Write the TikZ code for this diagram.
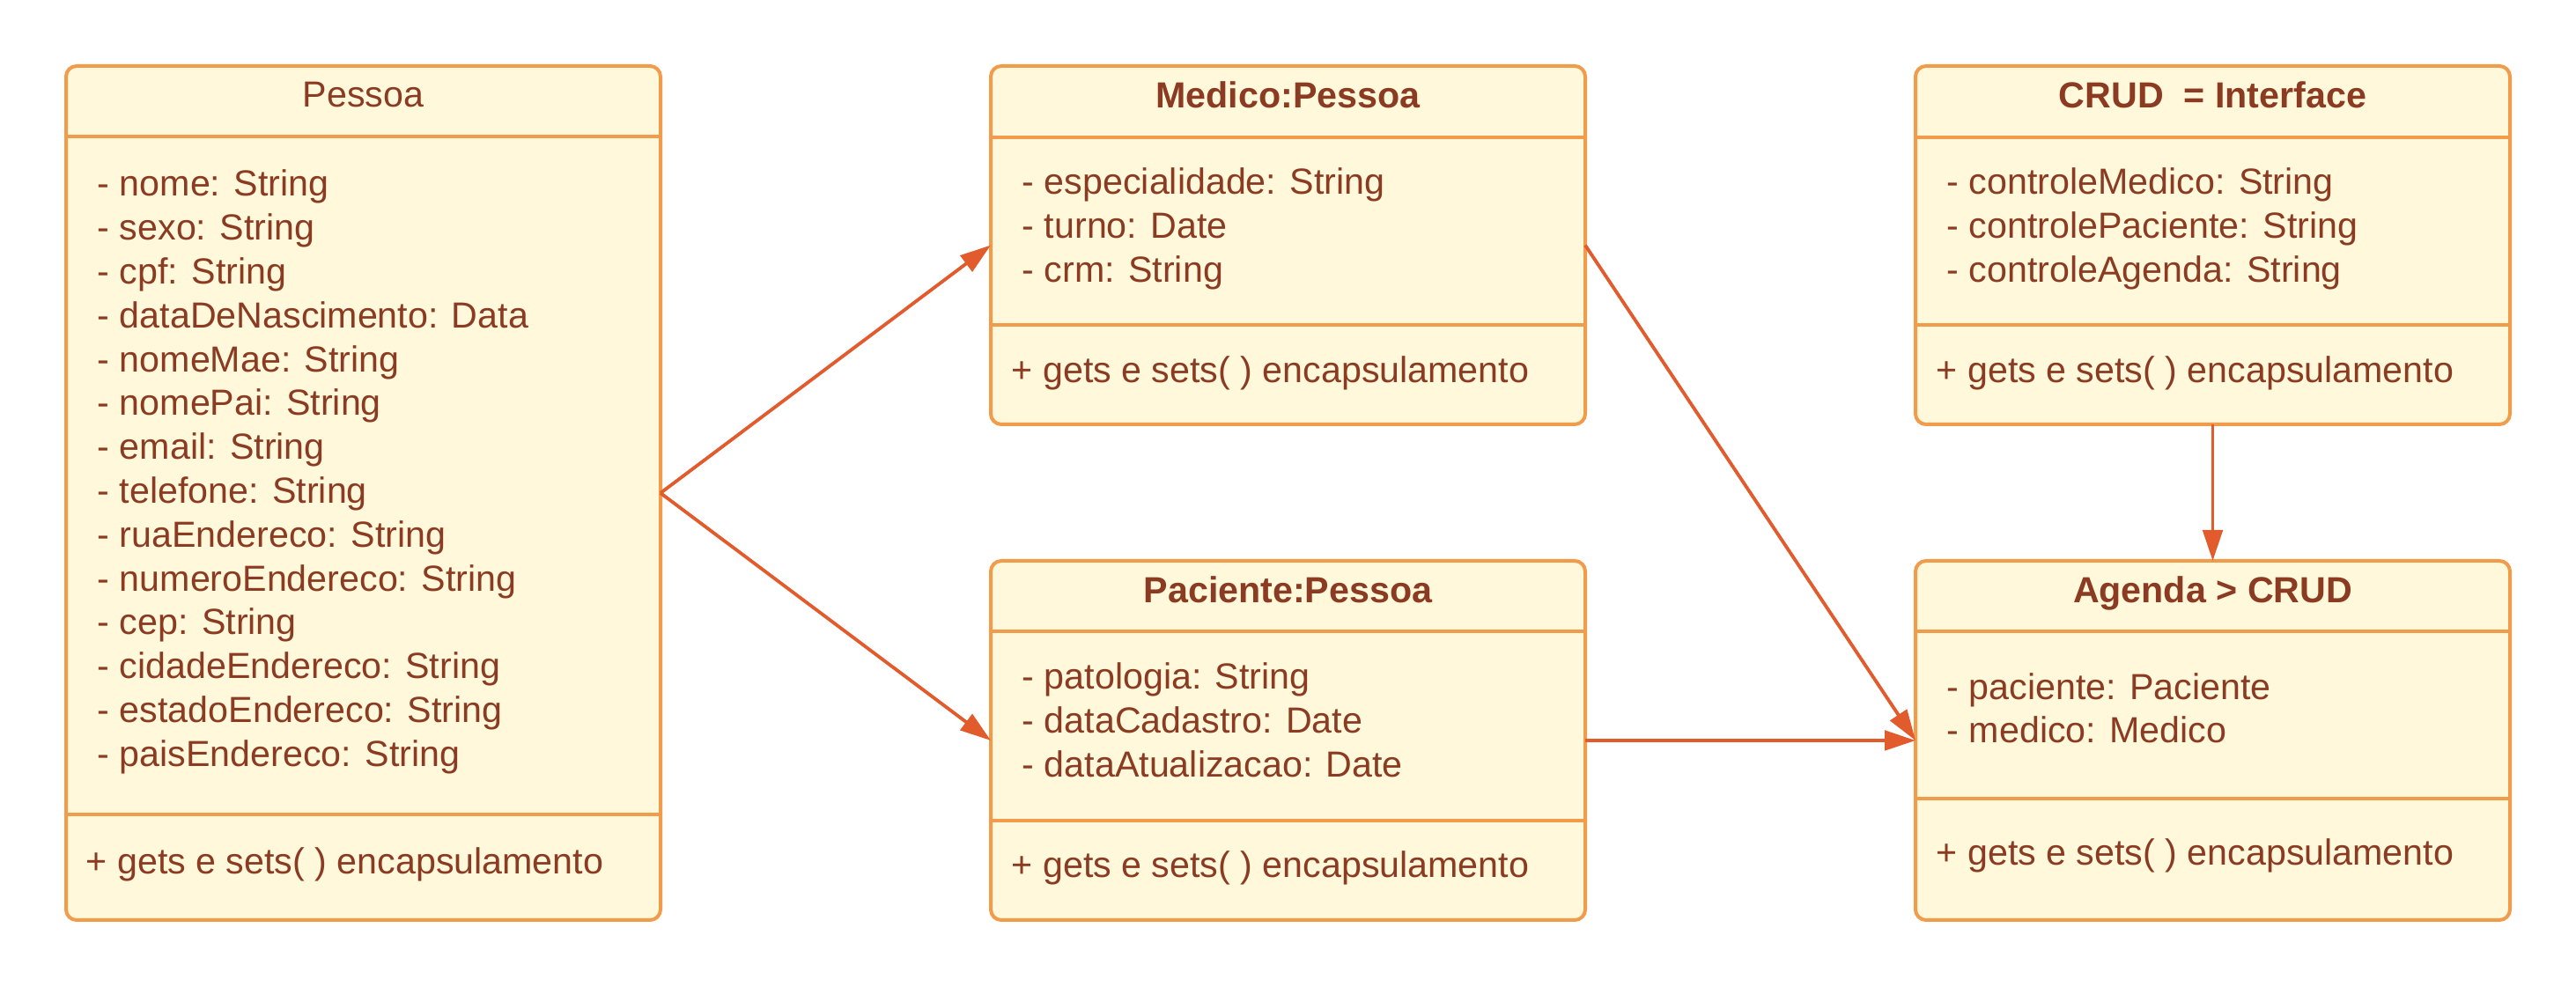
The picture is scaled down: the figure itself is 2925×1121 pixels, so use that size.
\documentclass[tikz,border=0pt]{standalone}
\usepackage{fontspec}
\setmainfont{Liberation Sans}
\usetikzlibrary{arrows.meta}
\definecolor{boxline}{HTML}{F19C4A}
\definecolor{boxfill}{HTML}{FFF8DA}
\definecolor{txt}{HTML}{8A3B22}
\definecolor{arr}{HTML}{E25B2C}
\begin{document}
\begin{tikzpicture}[x=0.25pt,y=-0.25pt,
  classbox/.style={draw=boxline, fill=boxfill, line width=1pt, rounded corners=3pt,
    minimum width=168.75pt, inner sep=0pt, outer sep=0pt},
  divider/.style={draw=boxline, line width=1pt},
  attr/.style={anchor=base west, inner sep=0pt, text=txt, font=\fontsize{10.3pt}{12.4pt}\selectfont},
  ttl/.style={anchor=base, inner sep=0pt, text=txt, font=\fontsize{10.3pt}{12.4pt}\selectfont},
  bttl/.style={ttl, font=\fontsize{10.3pt}{12.4pt}\selectfont\bfseries},
  conn/.style={draw=arr, line width=0.95pt, -{Triangle[length=8.75pt,width=5.6pt]}}]
\fill[white] (0,0) rectangle (2925,1121);
\useasboundingbox (0,0) rectangle (2925,1121);

% boxes
\node[classbox, minimum height=242.5pt] (pessoa) at (412.5,560) {};
\node[classbox, minimum height=101.75pt] (medico) at (1462.5,278.5) {};
\node[classbox, minimum height=101.75pt] (crud) at (2512.5,278.5) {};
\node[classbox, minimum height=102pt] (paciente) at (1462.5,841) {};
\node[classbox, minimum height=102pt] (agenda) at (2512.5,841) {};

% dividers
\draw[divider] (75,155) -- (750,155);
\draw[divider] (75,925) -- (750,925);
\draw[divider] (1125,156) -- (1800,156);
\draw[divider] (1125,369) -- (1800,369);
\draw[divider] (2175,156) -- (2850,156);
\draw[divider] (2175,369) -- (2850,369);
\draw[divider] (1125,717) -- (1800,717);
\draw[divider] (1125,932) -- (1800,932);
\draw[divider] (2175,717) -- (2850,717);
\draw[divider] (2175,907) -- (2850,907);

% titles
\node[ttl] (tpessoa) at (412.5,122) {Pessoa};
\node[bttl] (tmedico) at (1462.5,123) {Medico:Pessoa};
\node[bttl] (tcrud) at (2512.5,123) {CRUD\ \ = Interface};
\node[bttl] (tpaciente) at (1462.5,685) {Paciente:Pessoa};
\node[bttl] (tagenda) at (2512.5,685) {Agenda > CRUD};

% Pessoa attributes
\foreach \t [count=\i from 0] in {- nome: String, - sexo: String, - cpf: String,
  - dataDeNascimento: Data, - nomeMae: String, - nomePai: String, - email: String,
  - telefone: String, - ruaEndereco: String, - numeroEndereco: String, - cep: String,
  - cidadeEndereco: String, - estadoEndereco: String, - paisEndereco: String}
  \node[attr] (pa\i) at (110,{223+49.8*\i}) {\t};
\node[attr] (pm) at (97,993) {+ gets e sets( ) encapsulamento};

% Medico
\node[attr] (ma1) at (1160,221) {- especialidade: String};
\node[attr] (ma2) at (1160,271) {- turno: Date};
\node[attr] (ma3) at (1160,321) {- crm: String};
\node[attr] (mm) at (1148,435) {+ gets e sets( ) encapsulamento};

% CRUD
\node[attr] (ca1) at (2210,221) {- controleMedico: String};
\node[attr] (ca2) at (2210,271) {- controlePaciente: String};
\node[attr] (ca3) at (2210,321) {- controleAgenda: String};
\node[attr] (cm) at (2198,435) {+ gets e sets( ) encapsulamento};

% Paciente
\node[attr] (qa1) at (1160,783) {- patologia: String};
\node[attr] (qa2) at (1160,833) {- dataCadastro: Date};
\node[attr] (qa3) at (1160,883) {- dataAtualizacao: Date};
\node[attr] (qm) at (1148,997) {+ gets e sets( ) encapsulamento};

% Agenda
\node[attr] (aa1) at (2210,795) {- paciente: Paciente};
\node[attr] (aa2) at (2210,844) {- medico: Medico};
\node[attr] (am) at (2198,983) {+ gets e sets( ) encapsulamento};

% connectors
\draw[conn] (pessoa.east) -- (medico.west);
\draw[conn] (pessoa.east) -- (paciente.west);
\draw[conn] (medico.east) -- (agenda.west);
\draw[conn] (paciente.east) -- (agenda.west);
\draw[conn] (crud.south) -- (agenda.north);
\end{tikzpicture}
\end{document}
